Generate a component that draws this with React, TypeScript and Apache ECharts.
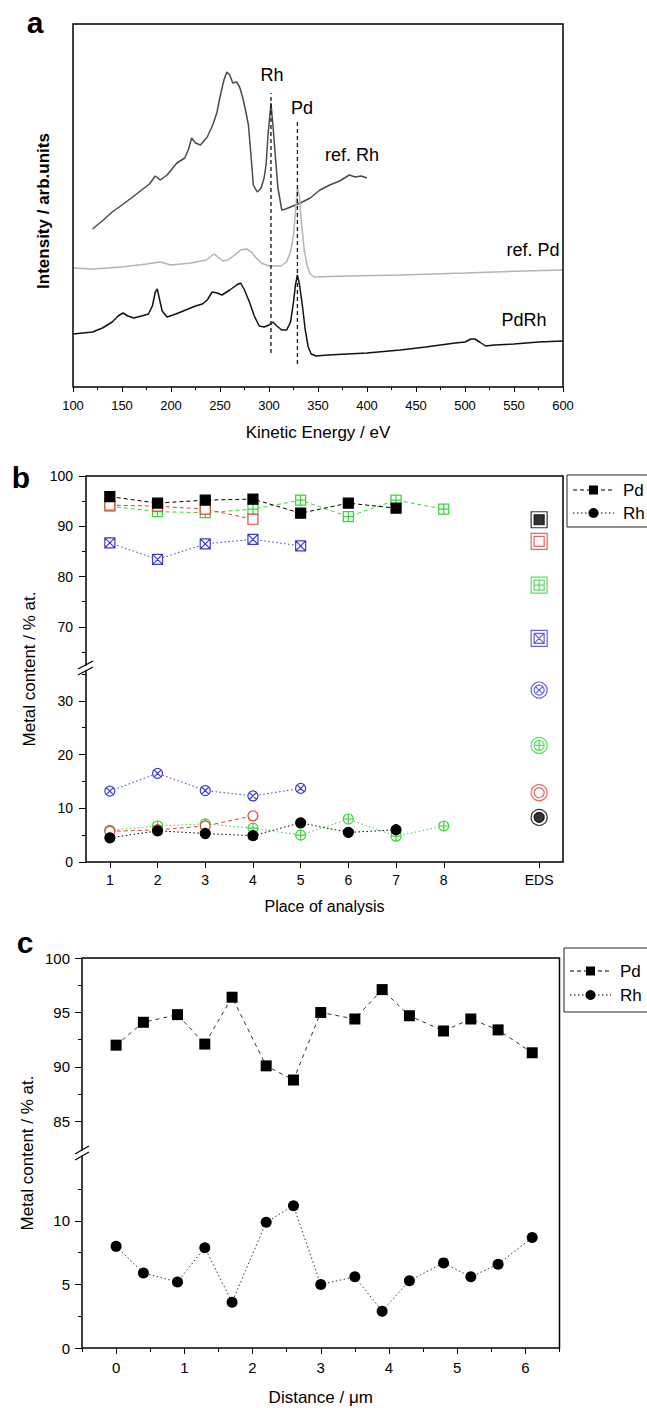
import React, { useEffect, useRef } from "react";
import * as echarts from "echarts";

const FONT = '"Liberation Sans", Arial, Helvetica, sans-serif';
const RED = "#e0403a";
const GREEN = "#33d633";
const BLUE = "#3a3ad0";

// ---------------- panel a : Auger spectra (energy eV, intensity arb. units) ----------------
const refRhSpectrum: [number, number][] = [
  [120, 158], [126, 163], [131, 167], [140, 175], [150, 182], [161, 190], [170, 197], [178, 203],
  [184, 211], [189, 207], [196, 212], [206, 224], [214, 229], [218, 238], [221, 249], [225, 244],
  [230, 242], [237, 250], [243, 263], [247, 275], [250, 290], [254, 307], [257, 315], [260, 312],
  [263, 304], [267, 305], [270, 300], [273, 290], [276, 277], [279, 262], [282, 227], [284, 202],
  [288, 195], [292, 199], [295, 209], [297, 222], [299, 252], [302, 284], [304, 262], [306, 237],
  [309, 200], [313, 177], [317, 178], [322, 180], [332, 184], [342, 189], [352, 197], [362, 202],
  [372, 206], [382, 212], [388, 210], [394, 211], [400, 209],
];
const refPdSpectrum: [number, number][] = [
  [100, 119], [120, 118], [150, 120], [175, 123], [189, 125], [200, 122], [220, 124], [236, 127],
  [241, 131], [244, 133], [248, 130], [253, 126], [258, 127], [265, 132], [271, 137], [277, 138],
  [282, 135], [287, 129], [292, 124], [300, 121], [312, 121], [318, 125], [322, 135], [325, 151],
  [327, 175], [329, 199], [331, 191], [333, 165], [336, 137], [339, 121], [342, 113], [346, 110],
  [380, 111], [434, 112], [500, 114], [560, 116], [600, 117],
];
const pdRhSpectrum: [number, number][] = [
  [100, 53], [110, 54], [120, 55], [130, 59], [140, 65], [146, 71], [151, 74], [156, 71],
  [162, 69], [170, 71], [177, 73], [181, 81], [184, 95], [186, 98], [188, 89], [191, 76],
  [196, 70], [205, 73], [215, 77], [225, 81], [232, 83], [237, 87], [242, 95], [247, 94],
  [252, 92], [260, 97], [267, 102], [271, 104], [275, 97], [280, 85], [285, 71], [290, 61],
  [295, 60], [300, 62], [304, 65], [308, 61], [313, 57], [318, 57], [322, 65], [325, 85],
  [327, 102], [329, 112], [331, 103], [334, 82], [337, 57], [340, 40], [343, 33], [348, 31],
  [360, 32], [380, 33], [400, 34], [434, 37], [460, 40], [490, 44], [500, 45], [506, 48],
  [510, 48], [515, 45], [521, 41], [530, 42], [550, 43], [575, 45], [600, 46],
];
const rhLine: [number, number][] = [[302, 34], [302, 294]];
const pdLine: [number, number][] = [[329, 23], [329, 265]];

// ---------------- panel b : composition at places of analysis ----------------
const places = [1, 2, 3, 4, 5, 6, 7, 8];
const edsPlace = 10;
const placeTicks = [1, 2, 3, 4, 5, 6, 7, 8, 10];
const blackPd = [95.9, 94.6, 95.2, 95.4, 92.6, 94.6, 93.6];
const blackRh = [4.5, 5.8, 5.3, 4.9, 7.3, 5.5, 6.0];
const redPd = [94.2, 94.0, 93.4, 91.4];
const redRh = [5.7, 6.0, 6.7, 8.6];
const greenPd = [94.0, 92.9, 92.7, 93.4, 95.2, 91.9, 95.2, 93.4];
const greenRh = [5.9, 6.7, 7.1, 6.3, 5.0, 8.0, 4.8, 6.7];
const bluePd = [86.7, 83.4, 86.5, 87.4, 86.1];
const blueRh = [13.2, 16.5, 13.3, 12.3, 13.7];
const edsPd = [91.3, 87.0, 78.3, 67.7]; // black, red, green, blue
const edsRh = [8.3, 12.9, 21.7, 32.0];
const bUpperLabels = [70, 80, 90, 100];
const bUpperMinor = [65, 75, 85, 95];
const bLowerLabels = [0, 10, 20, 30];
const bLowerMinor = [5, 15, 25, 35];

// ---------------- panel c : line profile ----------------
const distance = [0, 0.4, 0.9, 1.3, 1.7, 2.2, 2.6, 3.0, 3.5, 3.9, 4.3, 4.8, 5.2, 5.6, 6.1];
const profilePd = [92.0, 94.1, 94.8, 92.1, 96.4, 90.1, 88.8, 95.0, 94.4, 97.1, 94.7, 93.3, 94.4, 93.4, 91.3];
const profileRh = [8.0, 5.9, 5.2, 7.9, 3.6, 9.9, 11.2, 5.0, 5.6, 2.9, 5.3, 6.7, 5.6, 6.6, 8.7];
const distLabels = [0, 1, 2, 3, 4, 5, 6];
const distMinor = [-0.5, 0.5, 1.5, 2.5, 3.5, 4.5, 5.5, 6.5];
const cUpperLabels = [85, 90, 95, 100];
const cUpperMinor = [87.5, 92.5, 97.5];
const cLowerLabels = [0, 5, 10];
const cLowerMinor = [2.5, 7.5, 12.5];

const SQ_PLUS = "path://M0,0L10,0L10,10L0,10Z M5,0L5,10 M0,5L10,5";
const SQ_X = "path://M0,0L10,0L10,10L0,10Z M0,0L10,10 M10,0L0,10";
const CIRC_X = "path://M0,5A5,5,0,1,1,10,5A5,5,0,1,1,0,5Z M1.46,1.46L8.54,8.54 M8.54,1.46L1.46,8.54";
const CIRC_PLUS = "path://M0,5A5,5,0,1,1,10,5A5,5,0,1,1,0,5Z M5,0L5,10 M0,5L10,5";

const DASH = [4, 3];
const DOT = [1.5, 2.5];

function pts(xs: number[], ys: number[]) {
  return ys.map((y, i) => [xs[i], y]);
}

function markerLine(name: string, xi: number, yi: number, data: number[][], color: string,
  symbol: string, fill: string, dash: number[], z: number) {
  return {
    type: "line", name, xAxisIndex: xi, yAxisIndex: yi, data, symbol, symbolSize: 10,
    showSymbol: true, silent: true, z,
    itemStyle: { color: fill, borderColor: color, borderWidth: 1.2 },
    lineStyle: { color, width: 1, type: dash },
    emphasis: { disabled: true },
  };
}

function valueAxis(grid: number, min: number, max: number, position: string, extra: any = {}) {
  return {
    gridIndex: grid, type: "value", min, max, position,
    axisLine: { show: false, onZero: false }, splitLine: { show: false },
    axisTick: { show: false }, axisLabel: { show: false },
    ...extra,
  };
}

function tickSet(values: number[], length: number) {
  return { show: true, inside: false, length, customValues: values, lineStyle: { color: "#000", width: 1 } };
}
function labelSet(values: number[], fontSize: number, margin: number, formatter?: any) {
  const o: any = { show: true, customValues: values, fontSize, margin, color: "#000", fontFamily: FONT };
  if (formatter) o.formatter = formatter;
  return o;
}

export default function App() {
  const ref = useRef<HTMLDivElement>(null);

  useEffect(() => {
    if (!ref.current) return;
    const chart = echarts.init(ref.current, null, { renderer: "svg" });

    const edsColors = ["#000", RED, GREEN, BLUE];
    const edsPdSymbols = ["rect", "rect", SQ_PLUS, SQ_X];
    const edsPdFills = ["#000", "#fff", "#fff", "#fff"];
    const edsRhSymbols = ["circle", "circle", CIRC_PLUS, CIRC_X];
    const edsRhFills = ["#000", "#fff", "#fff", "#fff"];

    const edsInner = (vals: number[], syms: string[], fills: string[]) =>
      vals.map((v, i) => ({
        value: [edsPlace, v], symbol: syms[i],
        itemStyle: { color: fills[i], borderColor: edsColors[i], borderWidth: 1.2 },
      }));
    const edsOuter = (vals: number[], sym: string) =>
      vals.map((v, i) => ({
        value: [edsPlace, v], symbol: sym,
        itemStyle: { color: "rgba(0,0,0,0)", borderColor: edsColors[i], borderWidth: 1.2 },
      }));

    const txt = (text: string, x: number, y: number, fontSize: number, extra: any = {}, rotation = 0) => ({
      type: "text", x, y, rotation, z: 10, silent: true,
      style: {
        text, fill: "#000", fontSize, fontFamily: FONT, fontWeight: extra.fontWeight || "normal",
        align: extra.align || "center", verticalAlign: "middle",
        textAlign: extra.align || "center", textVerticalAlign: "middle",
      },
    });

    const frame = (x: number, y: number, w: number, h: number) => ({
      type: "rect", z: 5, silent: true, shape: { x, y, width: w, height: h },
      style: { fill: "none", stroke: "#000", lineWidth: 1.5 },
    });

    const legend = (x: number, y: number, h: number, row1: number, row2: number, fs: number) => [
      { type: "rect", z: 5, silent: true, shape: { x, y, width: 110, height: h }, style: { fill: "#fff", stroke: "#222", lineWidth: 1 } },
      { type: "line", z: 6, silent: true, shape: { x1: x + 6, y1: row1, x2: x + 47, y2: row1 }, style: { stroke: "#000", lineWidth: 1, lineDash: DASH } },
      { type: "rect", z: 7, silent: true, shape: { x: x + 22, y: row1 - 4.5, width: 9, height: 9 }, style: { fill: "#000" } },
      txt("Pd", x + 56, row1, fs, { align: "left" }),
      { type: "line", z: 6, silent: true, shape: { x1: x + 6, y1: row2, x2: x + 47, y2: row2 }, style: { stroke: "#000", lineWidth: 1, lineDash: DOT } },
      { type: "circle", z: 7, silent: true, shape: { cx: x + 26.5, cy: row2, r: 5 }, style: { fill: "#000" } },
      txt("Rh", x + 56, row2, fs, { align: "left" }),
    ];

    const graphic: any[] = [
      frame(73, 24, 490, 363),
      frame(86, 476, 477, 386),
      frame(82, 958, 477.5, 390),
      // axis breaks
      { type: "rect", z: 6, silent: true, shape: { x: 83.5, y: 665.5, width: 5, height: 5 }, style: { fill: "#fff" } },
      { type: "line", z: 7, silent: true, shape: { x1: 78, y1: 669, x2: 93, y2: 661 }, style: { stroke: "#000", lineWidth: 1.3 } },
      { type: "line", z: 7, silent: true, shape: { x1: 78, y1: 675, x2: 93, y2: 667 }, style: { stroke: "#000", lineWidth: 1.3 } },
      { type: "rect", z: 6, silent: true, shape: { x: 79.5, y: 1150.5, width: 5, height: 5 }, style: { fill: "#fff" } },
      { type: "line", z: 7, silent: true, shape: { x1: 75, y1: 1154, x2: 89, y2: 1146 }, style: { stroke: "#000", lineWidth: 1.3 } },
      { type: "line", z: 7, silent: true, shape: { x1: 75, y1: 1160, x2: 89, y2: 1152 }, style: { stroke: "#000", lineWidth: 1.3 } },
      // panel letters
      txt("a", 35, 22, 30, { fontWeight: "bold" }),
      txt("b", 21, 477, 30, { fontWeight: "bold" }),
      txt("c", 25, 942, 30, { fontWeight: "bold" }),
      // panel a annotations
      txt("Rh", 272, 75, 18),
      txt("Pd", 302, 108, 18),
      txt("ref. Rh", 352, 155, 18),
      txt("ref. Pd", 533, 250, 18),
      txt("PdRh", 524, 320, 18),
      // y titles
      txt("Intensity / arb.units", 43, 211, 17, { fontWeight: "bold" }, Math.PI / 2),
      txt("Metal content / % at.", 29, 669, 17, {}, Math.PI / 2),
      txt("Metal content / % at.", 27, 1153, 17, {}, Math.PI / 2),
      ...legend(567, 475, 52, 490, 513, 17),
      ...legend(564, 948, 64, 971, 995, 17),
    ];

    const option: any = {
      animation: false,
      backgroundColor: "#fff",
      textStyle: { fontFamily: FONT },
      grid: [
        { left: 73, top: 24, width: 490, height: 363, containLabel: false, outerBoundsMode: "none" },
        { left: 86, top: 476, width: 477, height: 191, containLabel: false, outerBoundsMode: "none" },
        { left: 86, top: 667, width: 477, height: 195, containLabel: false, outerBoundsMode: "none" },
        { left: 82, top: 958, width: 477.5, height: 195, containLabel: false, outerBoundsMode: "none" },
        { left: 82, top: 1153, width: 477.5, height: 195, containLabel: false, outerBoundsMode: "none" },
      ],
      xAxis: [
        {
          gridIndex: 0, type: "value", min: 100, max: 600, interval: 50, position: "bottom",
          axisLine: { show: false, onZero: false }, splitLine: { show: false }, minorSplitLine: { show: false },
          axisTick: { show: true, inside: false, length: 5, lineStyle: { color: "#000", width: 1 } },
          minorTick: { show: true, splitNumber: 2, length: 3, lineStyle: { color: "#000", width: 1 } },
          axisLabel: { fontSize: 13, color: "#000", fontFamily: FONT, margin: 12 },
          name: "Kinetic Energy / eV", nameLocation: "middle", nameGap: 37, nameMoveOverlap: false,
          nameTextStyle: { fontSize: 17, color: "#000", fontFamily: FONT },
        },
        valueAxis(1, 0.5, 10.5, "bottom"),
        valueAxis(2, 0.5, 10.5, "bottom", {
          axisTick: tickSet(placeTicks, 6),
          axisLabel: labelSet(placeTicks, 14, 11, (v: number) => (v === edsPlace ? "EDS" : String(v))),
          name: "Place of analysis", nameLocation: "middle", nameGap: 36, nameMoveOverlap: false,
          nameTextStyle: { fontSize: 16, color: "#000", fontFamily: FONT },
        }),
        valueAxis(3, -0.5, 6.5, "bottom"),
        valueAxis(4, -0.5, 6.5, "bottom", {
          axisTick: tickSet(distLabels, 6),
          axisLabel: labelSet(distLabels, 15, 12),
          name: "Distance / \u03bcm", nameLocation: "middle", nameGap: 41, nameMoveOverlap: false,
          nameTextStyle: { fontSize: 17, color: "#000", fontFamily: FONT },
        }),
        valueAxis(4, -0.5, 6.5, "bottom", { axisTick: tickSet(distMinor, 4) }),
      ],
      yAxis: [
        valueAxis(0, 0, 363, "left"),
        valueAxis(1, 62, 100, "left", { axisTick: tickSet(bUpperLabels, 7), axisLabel: labelSet(bUpperLabels, 14, 13) }),
        valueAxis(1, 62, 100, "left", { axisTick: tickSet(bUpperMinor, 4) }),
        valueAxis(2, 0, 36.3, "left", { axisTick: tickSet(bLowerLabels, 7), axisLabel: labelSet(bLowerLabels, 14, 13) }),
        valueAxis(2, 0, 36.3, "left", { axisTick: tickSet(bLowerMinor, 4) }),
        valueAxis(3, 82.1, 100, "left", { axisTick: tickSet(cUpperLabels, 7), axisLabel: labelSet(cUpperLabels, 15, 12) }),
        valueAxis(3, 82.1, 100, "left", { axisTick: tickSet(cUpperMinor, 4) }),
        valueAxis(4, 0, 15.35, "left", { axisTick: tickSet(cLowerLabels, 7), axisLabel: labelSet(cLowerLabels, 15, 12) }),
        valueAxis(4, 0, 15.35, "left", { axisTick: tickSet(cLowerMinor, 4) }),
      ],
      series: [
        // panel a
        { type: "line", name: "ref. Rh", xAxisIndex: 0, yAxisIndex: 0, data: refRhSpectrum, showSymbol: false, symbol: "none", silent: true, lineStyle: { color: "#4a4a4a", width: 1.5 } },
        { type: "line", name: "ref. Pd", xAxisIndex: 0, yAxisIndex: 0, data: refPdSpectrum, showSymbol: false, symbol: "none", silent: true, lineStyle: { color: "#b4b4b4", width: 1.5 } },
        { type: "line", name: "PdRh", xAxisIndex: 0, yAxisIndex: 0, data: pdRhSpectrum, showSymbol: false, symbol: "none", silent: true, lineStyle: { color: "#111", width: 1.5 } },
        { type: "line", name: "Rh line", xAxisIndex: 0, yAxisIndex: 0, data: rhLine, symbol: "none", silent: true, z: 4, lineStyle: { color: "#111", width: 1.3, type: DASH } },
        { type: "line", name: "Pd line", xAxisIndex: 0, yAxisIndex: 0, data: pdLine, symbol: "none", silent: true, z: 4, lineStyle: { color: "#111", width: 1.3, type: DASH } },
        // panel b upper (Pd)
        markerLine("Pd blue", 1, 1, pts(places, bluePd), BLUE, SQ_X, "#fff", DOT, 2),
        markerLine("Pd green", 1, 1, pts(places, greenPd), GREEN, SQ_PLUS, "#fff", DASH, 3),
        markerLine("Pd red", 1, 1, pts(places, redPd), RED, "rect", "#fff", DASH, 3),
        markerLine("Pd", 1, 1, pts(places, blackPd), "#000", "rect", "#000", DASH, 4),
        // panel b lower (Rh)
        markerLine("Rh blue", 2, 3, pts(places, blueRh), BLUE, CIRC_X, "#fff", DOT, 2),
        markerLine("Rh green", 2, 3, pts(places, greenRh), GREEN, CIRC_PLUS, "#fff", DOT, 3),
        markerLine("Rh red", 2, 3, pts(places, redRh), RED, "circle", "#fff", DASH, 3),
        markerLine("Rh", 2, 3, pts(places, blackRh), "#000", "circle", "#000", DOT, 4),
        // EDS
        { type: "scatter", name: "EDS Pd", xAxisIndex: 1, yAxisIndex: 1, symbolSize: 10, silent: true, z: 4, data: edsInner(edsPd, edsPdSymbols, edsPdFills) },
        { type: "scatter", name: "EDS Pd outline", xAxisIndex: 1, yAxisIndex: 1, symbolSize: 16, silent: true, z: 4, data: edsOuter(edsPd, "rect") },
        { type: "scatter", name: "EDS Rh", xAxisIndex: 2, yAxisIndex: 3, symbolSize: 10, silent: true, z: 4, data: edsInner(edsRh, edsRhSymbols, edsRhFills) },
        { type: "scatter", name: "EDS Rh outline", xAxisIndex: 2, yAxisIndex: 3, symbolSize: 16, silent: true, z: 4, data: edsOuter(edsRh, "circle") },
        // panel c
        {
          type: "line", name: "Pd profile", xAxisIndex: 3, yAxisIndex: 5, data: pts(distance, profilePd),
          symbol: "rect", symbolSize: 11, silent: true, itemStyle: { color: "#000" },
          lineStyle: { color: "#333", width: 1, type: [4, 4] },
        },
        {
          type: "line", name: "Rh profile", xAxisIndex: 4, yAxisIndex: 7, data: pts(distance, profileRh),
          symbol: "circle", symbolSize: 11, silent: true, itemStyle: { color: "#000" },
          lineStyle: { color: "#333", width: 1, type: DOT },
        },
      ],
      graphic: { elements: graphic },
    };

    chart.setOption(option);
    return () => chart.dispose();
  }, []);

  return (
    <div
      ref={ref}
      style={{ position: "absolute", left: 0, top: 0, width: 647, height: 1408, background: "#fff" }}
    />
  );
}
